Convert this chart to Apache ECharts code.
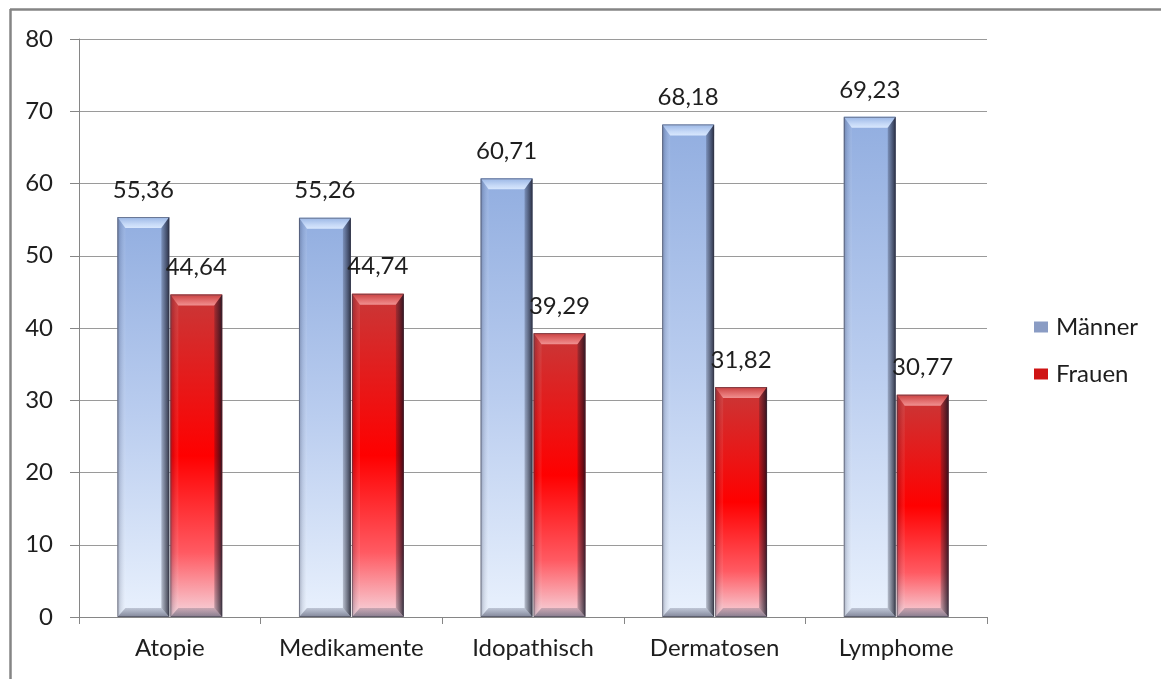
<!DOCTYPE html>
<html>
<head>
<meta charset="utf-8">
<script src="https://cdn.jsdelivr.net/npm/echarts@6/dist/echarts.min.js"></script>
<style>
  html, body { margin: 0; padding: 0; background: #ffffff; }
  #chart { width: 1161px; height: 679px; }
</style>
</head>
<body>
<div id="chart"></div>
<script>
// Anteil Männer / Frauen je Ursache (in %)
const categories = ['Atopie', 'Medikamente', 'Idopathisch', 'Dermatosen', 'Lymphome'];
const maenner = [55.36, 55.26, 60.71, 68.18, 69.23];
const frauen = [44.64, 44.74, 39.29, 31.82, 30.77];
const yTicks = { min: 0, max: 80, interval: 10 };

const FONT = 'Lato, "Open Sans", sans-serif';
const TEXT = '#1e1e1e';
const FS = 24;

const palettes = [
  { // Männer
    body: [[0, '#92aee0'], [0.5, '#bacdef'], [1, '#e9f1fd']],
    top: [[0, '#9ab6e5'], [0.65, '#c6d9f7'], [1, '#d8e7fd']],
    legend: '#8a9cc4'
  },
  { // Frauen
    body: [[0, '#c83838'], [0.5, '#ff0000'], [0.8, '#ff5a62'], [1, '#f6d6de']],
    top: [[0, '#c94040'], [0.65, '#e67474'], [1, '#f09090']],
    legend: '#cf1414'
  }
];

const fmt = v => v.toFixed(2).replace('.', ',');

function stops(arr) {
  return arr.map(s => ({ offset: s[0], color: s[1] }));
}
function grad(x2, y2, arr) {
  return { type: 'linear', x: 0, y: 0, x2: x2, y2: y2, colorStops: stops(arr) };
}

// Bevelled bar drawn from the axis scales
function renderBevelBar(params, api) {
  const cat = api.value(0);
  const val = api.value(1);
  const base = api.coord([cat, 0]);
  const top = api.coord([cat, val]);
  const band = api.size([1, 0])[0];
  const w = band * 0.286;
  const gap = 1;
  const si = params.seriesIndex;
  const x = si === 0 ? base[0] - w - gap / 2 : base[0] + gap / 2;
  const y0 = top[1];
  const y1 = base[1];
  const h = y1 - y0;
  const s = 8;   // side bevel
  const t = 11;  // top bevel
  const b = 9;   // bottom bevel
  const pal = palettes[si];

  return {
    type: 'group',
    children: [
      { type: 'rect', shape: { x: x, y: y0, width: w, height: h },
        style: { fill: grad(0, 1, pal.body) } },
      // top face
      { type: 'polygon', shape: { points: [[x, y0], [x + w, y0], [x + w - s, y0 + t], [x + s, y0 + t]] },
        style: { fill: grad(0, 1, pal.top) } },
      // left face
      { type: 'polygon', shape: { points: [[x, y0], [x + s, y0 + t], [x + s, y1 - b], [x, y1]] },
        style: { fill: grad(1, 0, [[0, 'rgba(40,45,70,0.32)'], [0.4, 'rgba(40,45,70,0.12)'], [1, 'rgba(255,255,255,0.08)']]) } },
      // right face
      { type: 'polygon', shape: { points: [[x + w, y0], [x + w - s, y0 + t], [x + w - s, y1 - b], [x + w, y1]] },
        style: { fill: grad(1, 0, [[0, 'rgba(20,22,40,0.22)'], [1, 'rgba(10,10,25,0.78)']]) } },
      // bottom face
      { type: 'polygon', shape: { points: [[x, y1], [x + s, y1 - b], [x + w - s, y1 - b], [x + w, y1]] },
        style: { fill: grad(0, 1, [[0, 'rgba(70,75,100,0.25)'], [1, 'rgba(60,62,85,0.6)']]) } },
      // outline
      { type: 'rect', shape: { x: x + 0.5, y: y0 + 0.5, width: w - 1, height: h - 1 },
        style: { fill: null, stroke: 'rgba(55,55,70,0.5)', lineWidth: 1 } },
      // value label
      { type: 'text', x: x + w / 2, y: y0 - 27,
        style: { text: fmt(val), fontSize: FS, fontFamily: FONT, fill: TEXT,
                 align: 'center', verticalAlign: 'middle' } }
    ]
  };
}

const chart = echarts.init(document.getElementById('chart'), null, { renderer: 'canvas' });

chart.setOption({
  backgroundColor: '#ffffff',
  animation: false,
  textStyle: { fontFamily: FONT },
  grid: { left: 79, right: 174, top: 39, bottom: 62, containLabel: false },
  legend: {
    orient: 'vertical',
    left: 1029,
    top: 310,
    itemWidth: 14,
    itemHeight: 11,
    itemGap: 23,
    icon: 'rect',
    textStyle: { fontSize: FS, color: TEXT, fontFamily: FONT, padding: [0, 0, 0, 3] },
    data: [
      { name: 'Männer', itemStyle: { color: palettes[0].legend } },
      { name: 'Frauen', itemStyle: { color: palettes[1].legend } }
    ]
  },
  xAxis: {
    type: 'category',
    data: categories,
    axisLine: { lineStyle: { color: '#868686', width: 1 } },
    axisTick: { show: true, length: 7, interval: 0, lineStyle: { color: '#868686' } },
    axisLabel: { fontSize: FS, color: TEXT, margin: 19, interval: 0, fontFamily: FONT },
    splitLine: { show: false }
  },
  yAxis: {
    type: 'value',
    min: yTicks.min,
    max: yTicks.max,
    interval: yTicks.interval,
    axisLine: { show: true, lineStyle: { color: '#868686', width: 1 } },
    axisTick: { show: true, length: 9, lineStyle: { color: '#868686' } },
    axisLabel: { fontSize: FS, color: TEXT, margin: 26, fontFamily: FONT },
    splitLine: { show: true, lineStyle: { color: '#9a9a9a', width: 1 } }
  },
  series: [
    {
      name: 'Männer',
      type: 'custom',
      renderItem: renderBevelBar,
      encode: { x: 0, y: 1 },
      itemStyle: { color: palettes[0].legend },
      data: maenner.map((v, i) => [i, v]),
      z: 3
    },
    {
      name: 'Frauen',
      type: 'custom',
      renderItem: renderBevelBar,
      encode: { x: 0, y: 1 },
      itemStyle: { color: palettes[1].legend },
      data: frauen.map((v, i) => [i, v]),
      z: 3
    }
  ],
  graphic: [
    { type: 'line', shape: { x1: 10, y1: 9.5, x2: 1161, y2: 9.5 },
      style: { stroke: '#858585', lineWidth: 2.5 }, silent: true },
    { type: 'line', shape: { x1: 10.5, y1: 9, x2: 10.5, y2: 679 },
      style: { stroke: '#858585', lineWidth: 2.5 }, silent: true }
  ]
});
</script>
</body>
</html>
